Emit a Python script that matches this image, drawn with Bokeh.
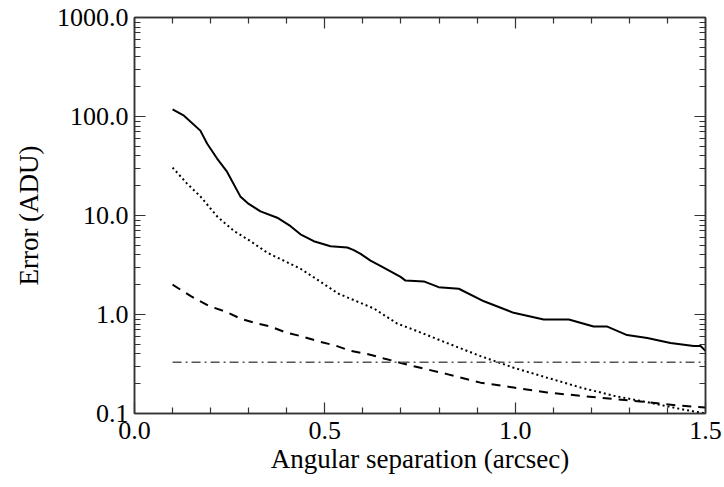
from bokeh.plotting import figure
from bokeh.models import (LogAxis, LinearAxis, FixedTicker, CustomJSTickFormatter,
                          Range1d)
from bokeh.embed import file_html
from bokeh.resources import INLINE

# ---- data ----
solid_x = [0.100, 0.130, 0.173, 0.191, 0.217, 0.243, 0.278, 0.300, 0.331, 0.375,
           0.410, 0.436, 0.471, 0.515, 0.559, 0.576, 0.594, 0.620, 0.646, 0.699,
           0.712, 0.760, 0.799, 0.852, 0.918, 0.996, 1.075, 1.141, 1.206, 1.242,
           1.294, 1.347, 1.408, 1.469, 1.487, 1.500]
solid_y = [118, 102, 72, 53, 37.6, 27.7, 15.6, 13.1, 11.0, 9.5,
           7.8, 6.45, 5.5, 4.9, 4.75, 4.47, 4.1, 3.5, 3.1, 2.4,
           2.2, 2.16, 1.89, 1.82, 1.36, 1.04, 0.89, 0.89, 0.755, 0.755,
           0.62, 0.58, 0.515, 0.48, 0.48, 0.43]

dotted_x = [0.100, 0.138, 0.173, 0.217, 0.261, 0.305, 0.349, 0.392, 0.436, 0.480,
            0.536, 0.629, 0.690, 0.734, 0.821, 0.909, 0.996, 1.084, 1.172, 1.259,
            1.347, 1.434, 1.500]
dotted_y = [30.5, 21, 15.6, 9.8, 7.0, 5.5, 4.2, 3.5, 2.9, 2.25,
            1.62, 1.15, 0.81, 0.70, 0.515, 0.38, 0.29, 0.23, 0.183, 0.151,
            0.130, 0.111, 0.100]

dashed_x = [0.100, 0.147, 0.195, 0.239, 0.278, 0.313, 0.357, 0.397, 0.440, 0.484,
            0.528, 0.567, 0.611, 0.655, 0.734, 0.821, 0.909, 0.996, 1.084, 1.172,
            1.259, 1.347, 1.434, 1.500]
dashed_y = [2.0, 1.54, 1.22, 1.07, 0.91, 0.83, 0.755, 0.66, 0.60, 0.535,
            0.485, 0.43, 0.40, 0.36, 0.30, 0.25, 0.205, 0.183, 0.163, 0.151,
            0.140, 0.130, 0.120, 0.115]

level_x = [0.1, 1.5]
level_y = [0.33, 0.33]

x_major = [0.0, 0.5, 1.0, 1.5]
x_minor = [0.1, 0.2, 0.3, 0.4, 0.6, 0.7, 0.8, 0.9, 1.1, 1.2, 1.3, 1.4]
y_major = [0.1, 1.0, 10.0, 100.0, 1000.0]
y_minor = [k * 10.0 ** e for e in range(-1, 3) for k in range(2, 10)]

FONT = "Liberation Serif"
FS = "26px"
AX = "#333333"

p = figure(width=724, height=487, x_range=Range1d(0, 1.5), y_range=Range1d(0.1, 1000),
           y_axis_type="log", output_backend="svg", toolbar_location=None,
           min_border_left=134, min_border_right=19, min_border_top=17,
           min_border_bottom=74, background_fill_color="white",
           border_fill_color="white")
p.xgrid.visible = False
p.ygrid.visible = False
p.outline_line_color = AX
p.outline_line_width = 1.5

fmt = CustomJSTickFormatter(code="return tick.toFixed(1);")
blank = CustomJSTickFormatter(code="return '';")

def style(ax, labels=True):
    ax.axis_line_color = AX
    ax.axis_line_width = 1.5
    ax.major_tick_line_color = AX
    ax.minor_tick_line_color = AX
    ax.major_tick_line_width = 1.2
    ax.minor_tick_line_width = 1.2
    ax.major_tick_in = 11
    ax.major_tick_out = 0
    ax.minor_tick_in = 6
    ax.minor_tick_out = 0
    ax.major_label_text_font = FONT
    ax.major_label_text_color = "black"
    ax.axis_label_text_font = FONT
    ax.axis_label_text_font_style = "normal"
    ax.axis_label_text_color = "black"
    if labels:
        ax.major_label_text_font_size = FS
        ax.axis_label_text_font_size = "27px"
        ax.formatter = fmt
    else:
        ax.major_label_text_font_size = "0px"
        ax.formatter = blank

xt = FixedTicker(ticks=x_major, minor_ticks=x_minor)
yt = FixedTicker(ticks=y_major, minor_ticks=y_minor)

p.xaxis.ticker = xt
p.yaxis.ticker = yt
style(p.xaxis[0])
style(p.yaxis[0])
p.xaxis.axis_label = "Angular separation (arcsec)"
p.yaxis.axis_label = "Error (ADU)"
p.xaxis.major_label_standoff = 8
p.yaxis.major_label_standoff = 6
p.xaxis.axis_label_standoff = 2
p.yaxis.axis_label_standoff = 10

top = LinearAxis(ticker=xt)
style(top, labels=False)
p.add_layout(top, "above")
right = LogAxis(ticker=yt)
style(right, labels=False)
p.add_layout(right, "right")

p.line(solid_x, solid_y, line_color="black", line_width=2)
p.line(dotted_x, dotted_y, line_color="black", line_width=2, line_dash="2 3")
p.line(dashed_x, dashed_y, line_color="black", line_width=2, line_dash="9 7")
p.line(level_x, level_y, line_color="#555555", line_width=1.5, line_dash="9 4 2 4")

open("out.html", "w").write(file_html(p, INLINE))
